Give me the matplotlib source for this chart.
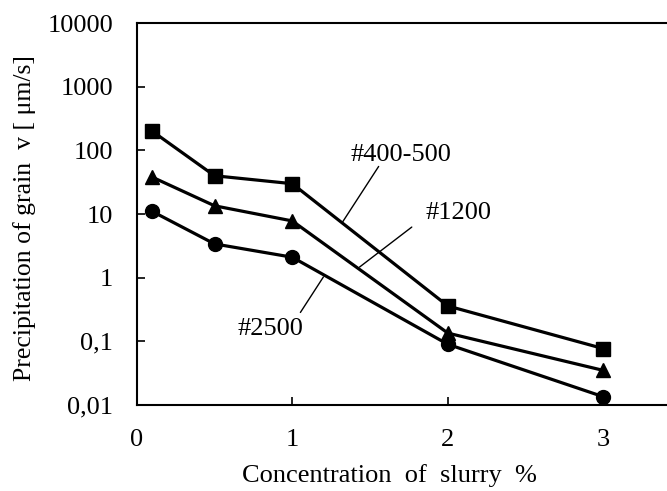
import matplotlib.pyplot as plt
from matplotlib.ticker import FixedLocator, FixedFormatter

plt.rcParams.update({"font.family": "Liberation Serif", "font.size": 19})

# concentration of slurry (%)
conc = [0.1, 0.5, 1, 2, 3]
# precipitation velocity of grain (um/s)
v_400_500 = [200, 40, 30, 0.36, 0.077]
v_1200 = [38, 13.5, 7.8, 0.135, 0.035]
v_2500 = [11, 3.4, 2.1, 0.09, 0.0135]

y_ticks = [0.01, 0.1, 1, 10, 100, 1000, 10000]
y_ticklabels = ["0,01", "0,1", "1", "10", "100", "1000", "10000"]
x_ticks = [0, 1, 2, 3]

fig = plt.figure(figsize=(6.67, 4.91), dpi=100)
ax = fig.add_axes([0.205, 0.175, 0.80, 0.778])

lw = 2.3
ax.plot(conc, v_400_500, "k-", marker="s", markersize=10, lw=lw, clip_on=False)
ax.plot(conc, v_1200, "k-", marker="^", markersize=10, lw=lw, clip_on=False)
ax.plot(conc, v_2500, "k-", marker="o", markersize=10, lw=lw, clip_on=False)

ax.set_yscale("log")
ax.set_ylim(0.01, 10000)
ax.set_xlim(0, 3.43)
ax.yaxis.set_major_locator(FixedLocator(y_ticks))
ax.yaxis.set_major_formatter(FixedFormatter(y_ticklabels))
ax.yaxis.set_minor_locator(FixedLocator([]))
ax.set_xticks(x_ticks)
ax.tick_params(direction="in", length=6, width=1.2)
ax.tick_params(axis="y", pad=17)
ax.tick_params(axis="x", pad=17)
for s in ["left", "bottom", "top"]:
    ax.spines[s].set_linewidth(1.5)
ax.spines["right"].set_visible(False)

# series labels and their leader lines
ax.text(1.70, 84, "#400-500", ha="center", va="center")
ax.text(2.07, 10.4, "#1200", ha="center", va="center")
ax.text(0.86, 0.154, "#2500", ha="center", va="center")
leader = dict(arrowstyle="-", lw=1, color="k", shrinkA=0, shrinkB=0)
ax.annotate("", xy=(1.323, 7.5), xytext=(1.555, 56), arrowprops=leader)
ax.annotate("", xy=(1.432, 1.47), xytext=(1.768, 6.25), arrowprops=leader)
ax.annotate("", xy=(1.2, 1.03), xytext=(1.052, 0.285), arrowprops=leader)

ax.set_xlabel("Concentration  of  slurry  %")
ax.xaxis.set_label_coords(0.474, -0.155)
ax.set_ylabel("Precipitation of grain  v [ \u03bcm/s]", fontsize=18.5)
ax.yaxis.set_label_coords(-0.188, 0.49)

fig.savefig("out.png", dpi=100)
